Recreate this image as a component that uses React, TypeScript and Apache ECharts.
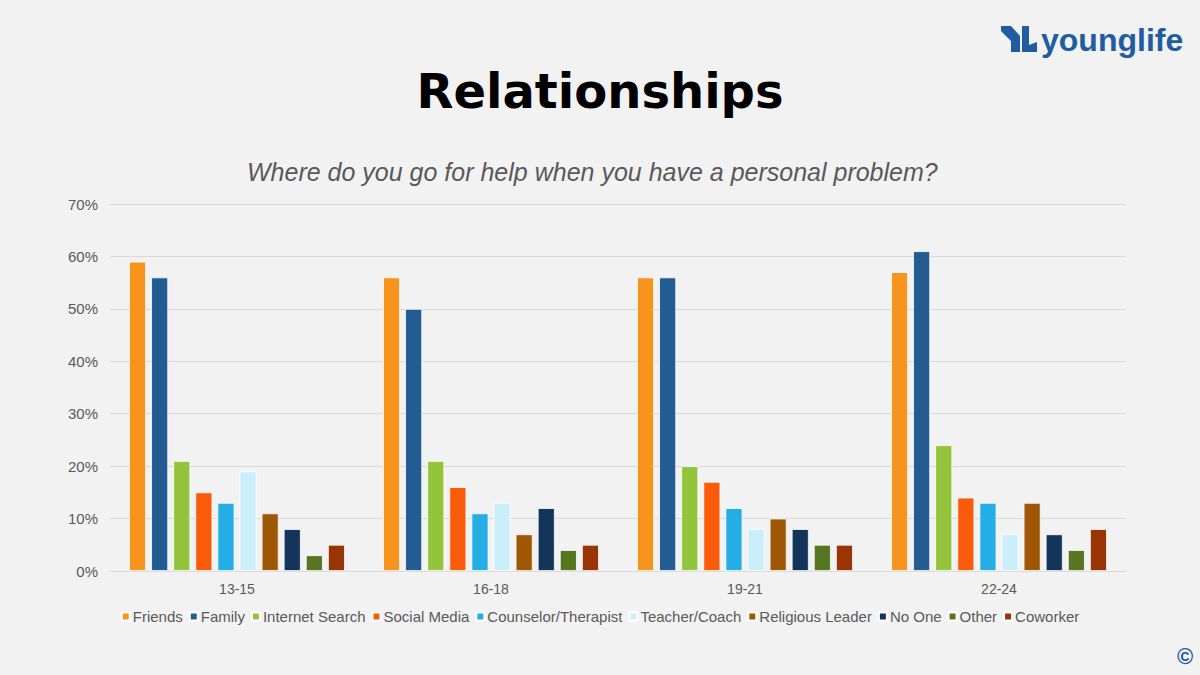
import React, { useEffect, useRef } from "react";
import * as echarts from "echarts";

const categories = ["13-15", "16-18", "19-21", "22-24"];
const seriesNames = [
  "Friends",
  "Family",
  "Internet Search",
  "Social Media",
  "Counselor/Therapist",
  "Teacher/Coach",
  "Religious Leader",
  "No One",
  "Other",
  "Coworker",
];
const friends = [59, 56, 56, 57];
const family = [56, 50, 56, 61];
const internetSearch = [21, 21, 20, 24];
const socialMedia = [15, 16, 17, 14];
const counselor = [13, 11, 12, 13];
const teacher = [19, 13, 8, 7];
const religious = [11, 7, 10, 13];
const noOne = [8, 12, 8, 7];
const other = [3, 4, 5, 4];
const coworker = [5, 5, 5, 8];
const seriesValues = [friends, family, internetSearch, socialMedia, counselor, teacher, religious, noOne, other, coworker];
const colors = [
  "#F7941D",
  "#235C91",
  "#92C43C",
  "#FA5B0B",
  "#25AEE6",
  "#CBEEFB",
  "#9E5805",
  "#14355A",
  "#577621",
  "#993505",
];

const FONT = "'Liberation Sans', Arial, sans-serif";

export default function App() {
  const ref = useRef<HTMLDivElement>(null);
  useEffect(() => {
    if (!ref.current) return;
    const chart = echarts.init(ref.current, undefined, { renderer: "svg" });
    chart.setOption({
      animation: false,
      backgroundColor: "#F2F2F2",
      textStyle: { fontFamily: FONT },
      title: [
        {
          text: "Relationships",
          left: "center",
          top: 62,
          textStyle: { fontFamily: "'DejaVu Sans', sans-serif", fontWeight: "bold", fontSize: 48, color: "#000000" },
        },
        {
          text: "Where do you go for help when you have a personal problem?",
          left: 242,
          top: 154,
          textStyle: { fontFamily: FONT, fontStyle: "italic", fontWeight: "normal", fontSize: 25, color: "#595959" },
        },
      ],
      legend: {
        bottom: 46,
        left: "center",
        itemWidth: 8,
        itemHeight: 8,
        itemGap: 6,
        icon: "rect",
        textStyle: { fontFamily: FONT, fontSize: 15, color: "#595959", padding: [0, 0, 0, -2] },
        data: seriesNames,
      },
      grid: { left: 110, right: 74, top: 204, bottom: 104 },
      xAxis: {
        type: "category",
        data: categories,
        axisLine: { lineStyle: { color: "#D9D9D9", width: 1 } },
        axisTick: { show: false },
        axisLabel: { color: "#595959", fontSize: 14, fontFamily: FONT, margin: 11 },
      },
      yAxis: {
        type: "value",
        min: 0,
        max: 70,
        interval: 10,
        axisLabel: { formatter: "{value}%", color: "#595959", fontSize: 15, fontFamily: FONT, margin: 12 },
        splitLine: { lineStyle: { color: "#D9D9D9", width: 1 } },
        axisLine: { show: false },
        axisTick: { show: false },
      },
      series: seriesNames.map((name, i) => ({
        name,
        type: "bar",
        data: seriesValues[i],
        barGap: "30%",
        barCategoryGap: "15%",
        itemStyle: { color: colors[i], borderColor: "#FFFFFF", borderWidth: 0.8 },
      })),
      graphic: [
        {
          type: "polygon",
          shape: {
            points: [
              [1001, 26], [1011, 26], [1020, 36], [1020, 52], [1011, 52], [1011, 41], [1001, 31],
            ],
          },
          style: { fill: "#1F5DA0" },
        },
        {
          type: "polygon",
          shape: {
            points: [
              [1022, 26], [1029, 26], [1029, 45], [1037, 42], [1037, 52], [1022, 52],
            ],
          },
          style: { fill: "#1F5DA0" },
        },
        {
          type: "text",
          x: 1041,
          y: 24,
          style: {
            text: "younglife",
            font: "bold 32px 'Liberation Sans', Arial, sans-serif",
            fill: "#1F5DA0",
          },
        },
        {
          type: "text",
          x: 1177,
          y: 645,
          style: {
            text: "©",
            font: "bold 22px 'Liberation Sans', Arial, sans-serif",
            fill: "#1F5DA0",
          },
        },
      ],
    });
    return () => chart.dispose();
  }, []);
  return <div ref={ref} style={{ width: 1200, height: 675, position: "absolute", left: 0, top: 0 }} />;
}
